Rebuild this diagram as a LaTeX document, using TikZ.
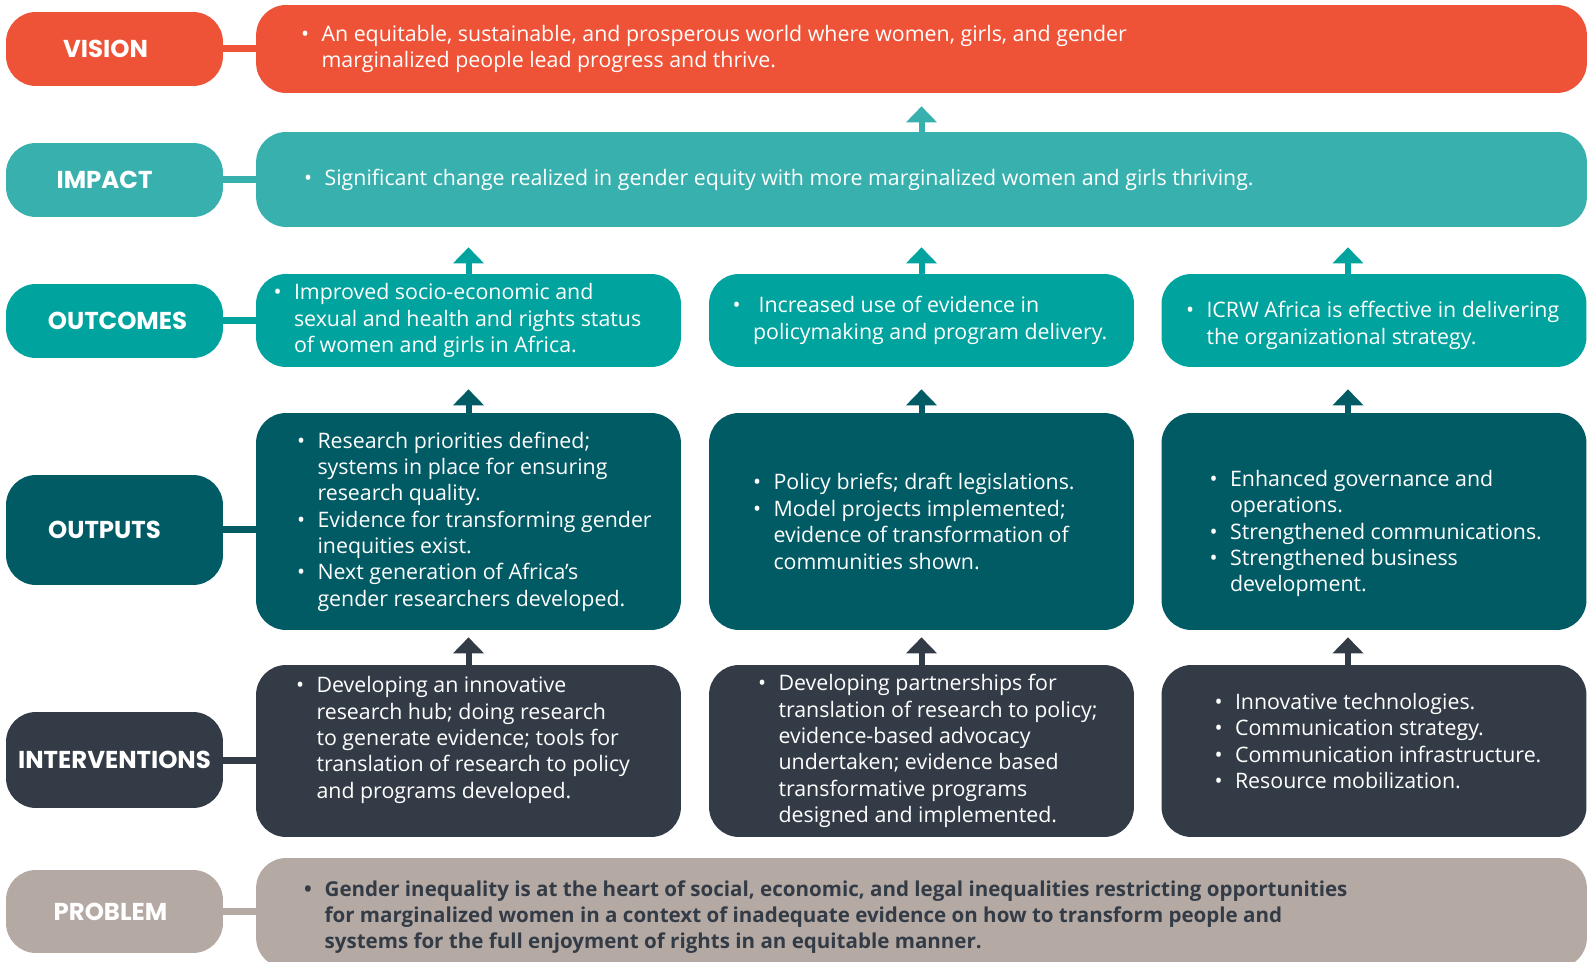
\documentclass[tikz,border=0pt]{standalone}
\usepackage{fontspec}
\setmainfont{Open Sans}
\newfontfamily\capsfont{Poppins}
\usetikzlibrary{positioning, arrows.meta}

\definecolor{viscol}{RGB}{238,83,56}
\definecolor{impcol}{RGB}{56,177,174}
\definecolor{outccol}{RGB}{0,163,157}
\definecolor{outpcol}{RGB}{0,91,101}
\definecolor{intcol}{RGB}{51,60,70}
\definecolor{probcol}{RGB}{181,169,164}

\newcommand{\bl}{\makebox[0.41cm][l]{\textbullet}}
\newcommand{\ind}{\hspace*{0.41cm}}
\newcommand{\gap}[1]{\rule{#1}{0pt}}

\tikzstyle{tag} = [rectangle, rounded corners=0.6cm, minimum width=4.34cm, text=white, font=\capsfont\bfseries\fontsize{13.9}{15}\selectfont]
\tikzstyle{card} = [rectangle, rounded corners=0.6cm, minimum width=8.5cm]
\tikzstyle{wide} = [rectangle, rounded corners=0.6cm, minimum width=26.62cm]
\tikzstyle{txt} = [align=left, inner sep=0pt, text=white, font=\fontsize{12.15}{15}\selectfont]
\tikzstyle{bar} = [line width=0.14cm]
\tikzstyle{uparrow} = [line width=0.12cm, -{Triangle[width=0.6cm,length=0.32cm]}]

\begin{document}
\begin{tikzpicture}[x=0.02cm, y=-0.02cm]
\useasboundingbox (0,0) rectangle (1589,962);

\node (lvis) [tag, fill=viscol, minimum height=1.48cm] at (114.5,49) {VISION\gap{0.36cm}};
\node (limp) [tag, fill=impcol, minimum height=1.48cm] at (114.5,180) {IMPACT\gap{0.4cm}};
\node (loutc) [tag, fill=outccol, minimum height=1.48cm] at (114.5,321) {\gap{0.12cm}OUTCOMES};
\node (loutp) [tag, fill=outpcol, minimum height=2.2cm] at (114.5,530) {OUTPUTS\gap{0.4cm}};
\node (lint) [tag, fill=intcol, minimum height=1.92cm] at (114.5,760) {INTERVENTIONS};
\node (lprob) [tag, fill=probcol, minimum height=1.66cm] at (114.5,911.5) {PROBLEM\gap{0.16cm}};

\node (vis) [wide, fill=viscol, minimum height=1.76cm] at (921.5,49) {};
\node (imp) [wide, fill=impcol, minimum height=1.9cm] at (921.5,179.5) {};
\node (outc1) [card, fill=outccol, minimum height=1.86cm] at (468.5,320.5) {};
\node (outc2) [card, fill=outccol, minimum height=1.86cm] at (921.5,320.5) {};
\node (outc3) [card, fill=outccol, minimum height=1.86cm] at (1374,320.5) {};
\node (outp1) [card, fill=outpcol, minimum height=4.34cm] at (468.5,521.5) {};
\node (outp2) [card, fill=outpcol, minimum height=4.34cm] at (921.5,521.5) {};
\node (outp3) [card, fill=outpcol, minimum height=4.34cm] at (1374,521.5) {};
\node (int1) [card, fill=intcol, minimum height=3.44cm] at (468.5,751) {};
\node (int2) [card, fill=intcol, minimum height=3.44cm] at (921.5,751) {};
\node (int3) [card, fill=intcol, minimum height=3.44cm] at (1374,751) {};
\node (prob) [wide, fill=probcol, minimum height=2.2cm] at (921.5,913) {};

\node (tvis) [txt, right=0.9cm of vis.west] {\bl An equitable, sustainable, and prosperous world where women, girls, and gender\\ \ind marginalized people lead progress and thrive.};
\node (timp) [txt, right=0.96cm of imp.west] {\bl Significant change realized in gender equity with more marginalized women and girls thriving.};
\node (toutc1) [txt, right=0.35cm of outc1.west] {\bl Improved socio-economic and\\ \ind sexual and health and rights status\\ \ind of women and girls in Africa.};
\node (toutc2) [txt, right=0.47cm of outc2.west] {\bl\ Increased use of evidence in\\ \ind policymaking and program delivery.};
\node (toutc3) [txt, right=0.49cm of outc3.west, yshift=-0.1cm] {\bl ICRW Africa is effective in delivering\\ \ind the organizational strategy.};
\node (toutp1) [txt, right=0.82cm of outp1.west] {\bl Research priorities defined;\\ \ind systems in place for ensuring\\ \ind research quality.\\ \bl Evidence for transforming gender\\ \ind inequities exist.\\ \bl Next generation of Africa's\\ \ind gender researchers developed.};
\node (toutp2) [txt, right=0.88cm of outp2.west] {\bl Policy briefs; draft legislations.\\ \bl Model projects implemented;\\ \ind evidence of transformation of\\ \ind communities shown.};
\node (toutp3) [txt, right=0.96cm of outp3.west, yshift=-0.24cm] {\bl Enhanced governance and\\ \ind operations.\\ \bl Strengthened communications.\\ \bl Strengthened business\\ \ind development.};
\node (tint1) [txt, right=0.8cm of int1.west, yshift=0.22cm] {\bl Developing an innovative\\ \ind research hub; doing research\\ \ind to generate evidence; tools for\\ \ind translation of research to policy\\ \ind and programs developed.};
\node (tint2) [txt, right=0.98cm of int2.west] {\bl Developing partnerships for\\ \ind translation of research to policy;\\ \ind evidence-based advocacy\\ \ind undertaken; evidence based\\ \ind transformative programs\\ \ind designed and implemented.};
\node (tint3) [txt, right=1.06cm of int3.west, yshift=0.2cm] {\bl Innovative technologies.\\ \bl Communication strategy.\\ \bl Communication infrastructure.\\ \bl Resource mobilization.};
\node (tprob) [txt, right=0.96cm of prob.west, yshift=-0.08cm, text=intcol, font=\bfseries\fontsize{11.7}{15}\selectfont] {\bl Gender inequality is at the heart of social, economic, and legal inequalities restricting opportunities\\ \ind for marginalized women in a context of inadequate evidence on how to transform people and\\ \ind systems for the full enjoyment of rights in an equitable manner.};

\draw [bar, viscol] (lvis.east) -- (lvis.east -| vis.west);
\draw [bar, impcol] (limp.east) -- (limp.east -| imp.west);
\draw [bar, outccol] (loutc.east) -- (loutc.east -| outc1.west);
\draw [bar, outpcol] (loutp.east) -- (loutp.east -| outp1.west);
\draw [bar, intcol] (lint.east) -- (lint.east -| int1.west);
\draw [bar, probcol] (lprob.east) -- (lprob.east -| prob.west);

\draw [uparrow, impcol, shorten >=0.26cm] (imp.north) -- (vis.south);
\draw [uparrow, outccol, shorten >=0.4cm] (outc1.north) -- (outc1.north |- imp.south);
\draw [uparrow, outccol, shorten >=0.4cm] (outc2.north) -- (imp.south);
\draw [uparrow, outccol, shorten >=0.4cm] ([xshift=-0.52cm]outc3.north) -- ([xshift=-0.52cm]outc3.north |- imp.south);
\draw [uparrow, outpcol, shorten >=0.44cm] (outp1.north) -- (outc1.south);
\draw [uparrow, outpcol, shorten >=0.44cm] (outp2.north) -- (outc2.south);
\draw [uparrow, outpcol, shorten >=0.44cm] ([xshift=-0.52cm]outp3.north) -- ([xshift=-0.52cm]outc3.south);
\draw [uparrow, intcol, shorten >=0.14cm] (int1.north) -- (outp1.south);
\draw [uparrow, intcol, shorten >=0.14cm] (int2.north) -- (outp2.south);
\draw [uparrow, intcol, shorten >=0.14cm] ([xshift=-0.52cm]int3.north) -- ([xshift=-0.52cm]outp3.south);
\end{tikzpicture}
\end{document}
